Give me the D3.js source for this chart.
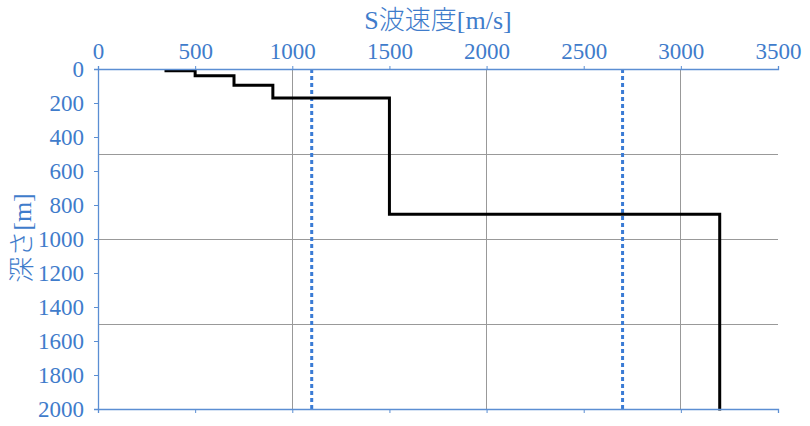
<!DOCTYPE html>
<html><head><meta charset="utf-8">
<script src="https://cdn.jsdelivr.net/npm/d3@7"></script>
<style>body{margin:0;background:#fff}svg{display:block}</style>
</head><body>
<svg id="c" width="810" height="426"></svg>
<script>
// Data
const velocities = [350, 500, 700, 900, 1500, 3200];   // S-wave velocity per layer [m/s]
const boundaryDepths = [10, 40, 95, 170, 855];          // layer boundary depths [m]
const maxDepth = 2000;
const refVelocities = [1100, 2700];                      // dotted reference lines
const xTicks = [0, 500, 1000, 1500, 2000, 2500, 3000, 3500];
const yTicks = [0, 200, 400, 600, 800, 1000, 1200, 1400, 1600, 1800, 2000];
const xGrid = [1000, 2000, 3000];
const yGrid = [500, 1000, 1500];
const xTitle = "S波速度[m/s]";
const yTitle = "深さ[m]";

const W = 810, H = 426;
const m = {l: 98, r: 32, t: 69, b: 17};
const axisColor = "#5b8ed3", textColor = "#3f7ccb", gridColor = "#999";
const serif = "'Liberation Serif', 'Times New Roman', serif";
const svg = d3.select("#c");
const x = d3.scaleLinear().domain([0, 3500]).range([m.l, W - m.r]);
const y = d3.scaleLinear().domain([0, 2000]).range([m.t, H - m.b]);

// grid
svg.append("g").selectAll("line").data(xGrid).join("line")
  .attr("x1", d => x(d)).attr("x2", d => x(d)).attr("y1", y(0)).attr("y2", y(2000))
  .attr("stroke", gridColor).attr("stroke-width", 1).attr("shape-rendering", "crispEdges");
svg.append("g").selectAll("line").data(yGrid).join("line")
  .attr("y1", d => y(d)).attr("y2", d => y(d)).attr("x1", x(0)).attr("x2", x(3500))
  .attr("stroke", gridColor).attr("stroke-width", 1).attr("shape-rendering", "crispEdges");

// reference dotted lines
svg.append("g").selectAll("line").data(refVelocities).join("line")
  .attr("x1", d => x(d)).attr("x2", d => x(d)).attr("y1", y(0)).attr("y2", y(2000))
  .attr("stroke", "#3a7bd5").attr("stroke-width", 3).attr("stroke-dasharray", "4,3");

// step profile
const pts = [[velocities[0], boundaryDepths[0]]];
for (let i = 0; i < boundaryDepths.length; i++) {
  pts.push([velocities[i + 1], boundaryDepths[i]]);
  pts.push([velocities[i + 1], i + 1 < boundaryDepths.length ? boundaryDepths[i + 1] : maxDepth]);
}
svg.append("path").datum(pts)
  .attr("d", d3.line().x(d => x(d[0])).y(d => y(d[1])))
  .attr("fill", "none").attr("stroke", "#000").attr("stroke-width", 3)
  .attr("stroke-linejoin", "miter").attr("stroke-linecap", "square");

// axes
function style(g) {
  g.attr("font-family", serif).attr("font-size", 23);
  g.selectAll(".domain").attr("stroke", axisColor).attr("stroke-width", 1.3);
  g.selectAll(".tick line").attr("stroke", axisColor).attr("stroke-width", 1);
  g.selectAll(".tick text").attr("fill", textColor)
    .attr("font-family", serif).attr("font-size", 23);
}
const fmt = d3.format("d");
const gTop = svg.append("g").attr("transform", `translate(0,${y(0)})`)
  .call(d3.axisTop(x).tickValues(xTicks).tickFormat(fmt).tickSize(3).tickSizeOuter(3).tickPadding(7));
style(gTop);
const gBot = svg.append("g").attr("transform", `translate(0,${y(2000)})`)
  .call(d3.axisBottom(x).tickValues(xTicks).tickSize(4).tickSizeOuter(4).tickFormat(""));
style(gBot);
const gLeft = svg.append("g").attr("transform", `translate(${x(0)},0)`)
  .call(d3.axisLeft(y).tickValues(yTicks).tickFormat(fmt).tickSize(4).tickSizeOuter(4).tickPadding(10));
style(gLeft);

// titles
const titleFont = "'Liberation Serif', 'Noto Sans CJK JP', serif";
svg.append("text").attr("x", 438).attr("y", 29).attr("text-anchor", "middle")
  .attr("fill", textColor).attr("font-family", titleFont)
  .attr("font-size", 26).attr("font-weight", 300).text(xTitle);
svg.append("text").attr("transform", "translate(31,238) rotate(-90)").attr("text-anchor", "middle")
  .attr("fill", textColor).attr("font-family", titleFont)
  .attr("font-size", 26).attr("font-weight", 300).text(yTitle);
</script>
</body></html>
